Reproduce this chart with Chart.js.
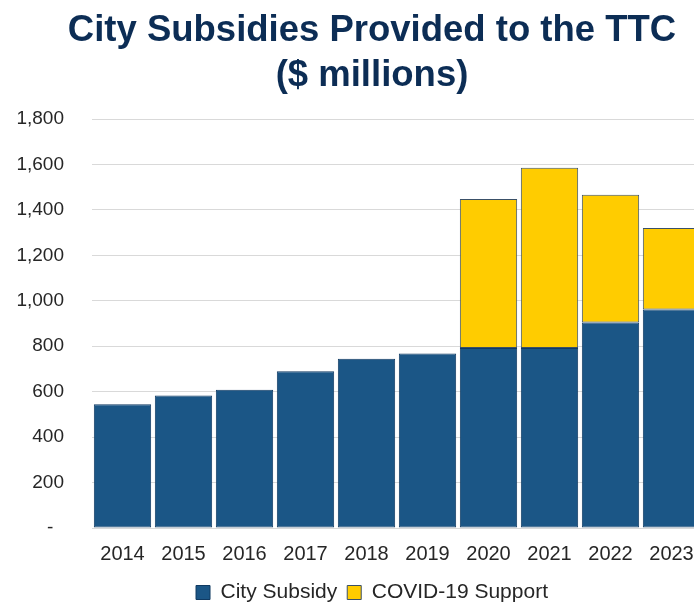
<!DOCTYPE html>
<html>
<head>
<meta charset="utf-8">
<script src="https://cdn.jsdelivr.net/npm/chart.js@4.4.0/dist/chart.umd.min.js"></script>
<style>
  html, body { margin: 0; padding: 0; background: #fff; overflow: hidden; }
  #wrap { width: 694px; height: 603px; overflow: hidden; }
</style>
</head>
<body>
<div id="wrap"><canvas id="ttcChart" width="744" height="613"></canvas></div>
<script>
const years = ["2014", "2015", "2016", "2017", "2018", "2019", "2020", "2021", "2022", "2023"];
const citySubsidy = [545, 583, 608, 690, 745, 768, 792, 792, 905, 962];
const covidSupport = [0, 0, 0, 0, 0, 0, 656, 794, 562, 359];
const titleLines = ["City Subsidies Provided to the TTC", "($ millions)"];

const ctx = document.getElementById("ttcChart").getContext("2d");
const ttcChart = new Chart(ctx, {
  type: 'bar',
  data: {
    labels: years,
    datasets: [{
      label: 'City Subsidy',
      data: citySubsidy,
      backgroundColor: '#1b5686',
      borderColor: '#103a62',
      borderWidth: 1,
      borderSkipped: false
    }, {
      label: 'COVID-19 Support',
      data: covidSupport,
      backgroundColor: '#ffcc00',
      borderColor: '#3a5068',
      borderWidth: 1,
      borderSkipped: false
    }]
  },
  options: {
    responsive: false,
    animation: false,
    layout: { padding: 0 },
    datasets: {
      bar: { categoryPercentage: 1, barPercentage: 0.94 }
    },
    scales: {
      x: {
        stacked: true,
        grid: { display: false },
        border: { display: false },
        ticks: {
          color: '#262626',
          font: { family: 'Liberation Sans', size: 20 },
          padding: 6,
          maxRotation: 0
        }
      },
      y: {
        stacked: true,
        min: 0,
        max: 1800,
        afterFit: (scale) => { scale.width = 92; },
        grid: { color: '#d9d9d9', lineWidth: 1, drawTicks: false },
        border: { display: false },
        ticks: {
          stepSize: 200,
          color: '#262626',
          font: { family: 'Liberation Sans', size: 19 },
          padding: 28,
          callback: (value) => value === 0 ? '-  ' : value.toLocaleString('en-US')
        }
      },
      // empty right-hand space so the plot ends where the picture is cut
      yRight: {
        position: 'right',
        display: true,
        afterFit: (scale) => { scale.width = 42; },
        grid: { display: false },
        border: { display: false },
        ticks: { display: false }
      }
    },
    plugins: {
      title: {
        display: true,
        text: titleLines,
        color: '#0c2d55',
        font: { family: 'Liberation Sans', size: 36.5, weight: 'bold', lineHeight: 1.22 },
        padding: { top: 9, bottom: 21 }
      },
      legend: {
        position: 'bottom',
        labels: {
          color: '#262626',
          font: { family: 'Liberation Sans', size: 21 },
          boxWidth: 14,
          boxHeight: 14,
          padding: 10
        }
      },
      tooltip: { enabled: false }
    }
  }
});
</script>
</body>
</html>
